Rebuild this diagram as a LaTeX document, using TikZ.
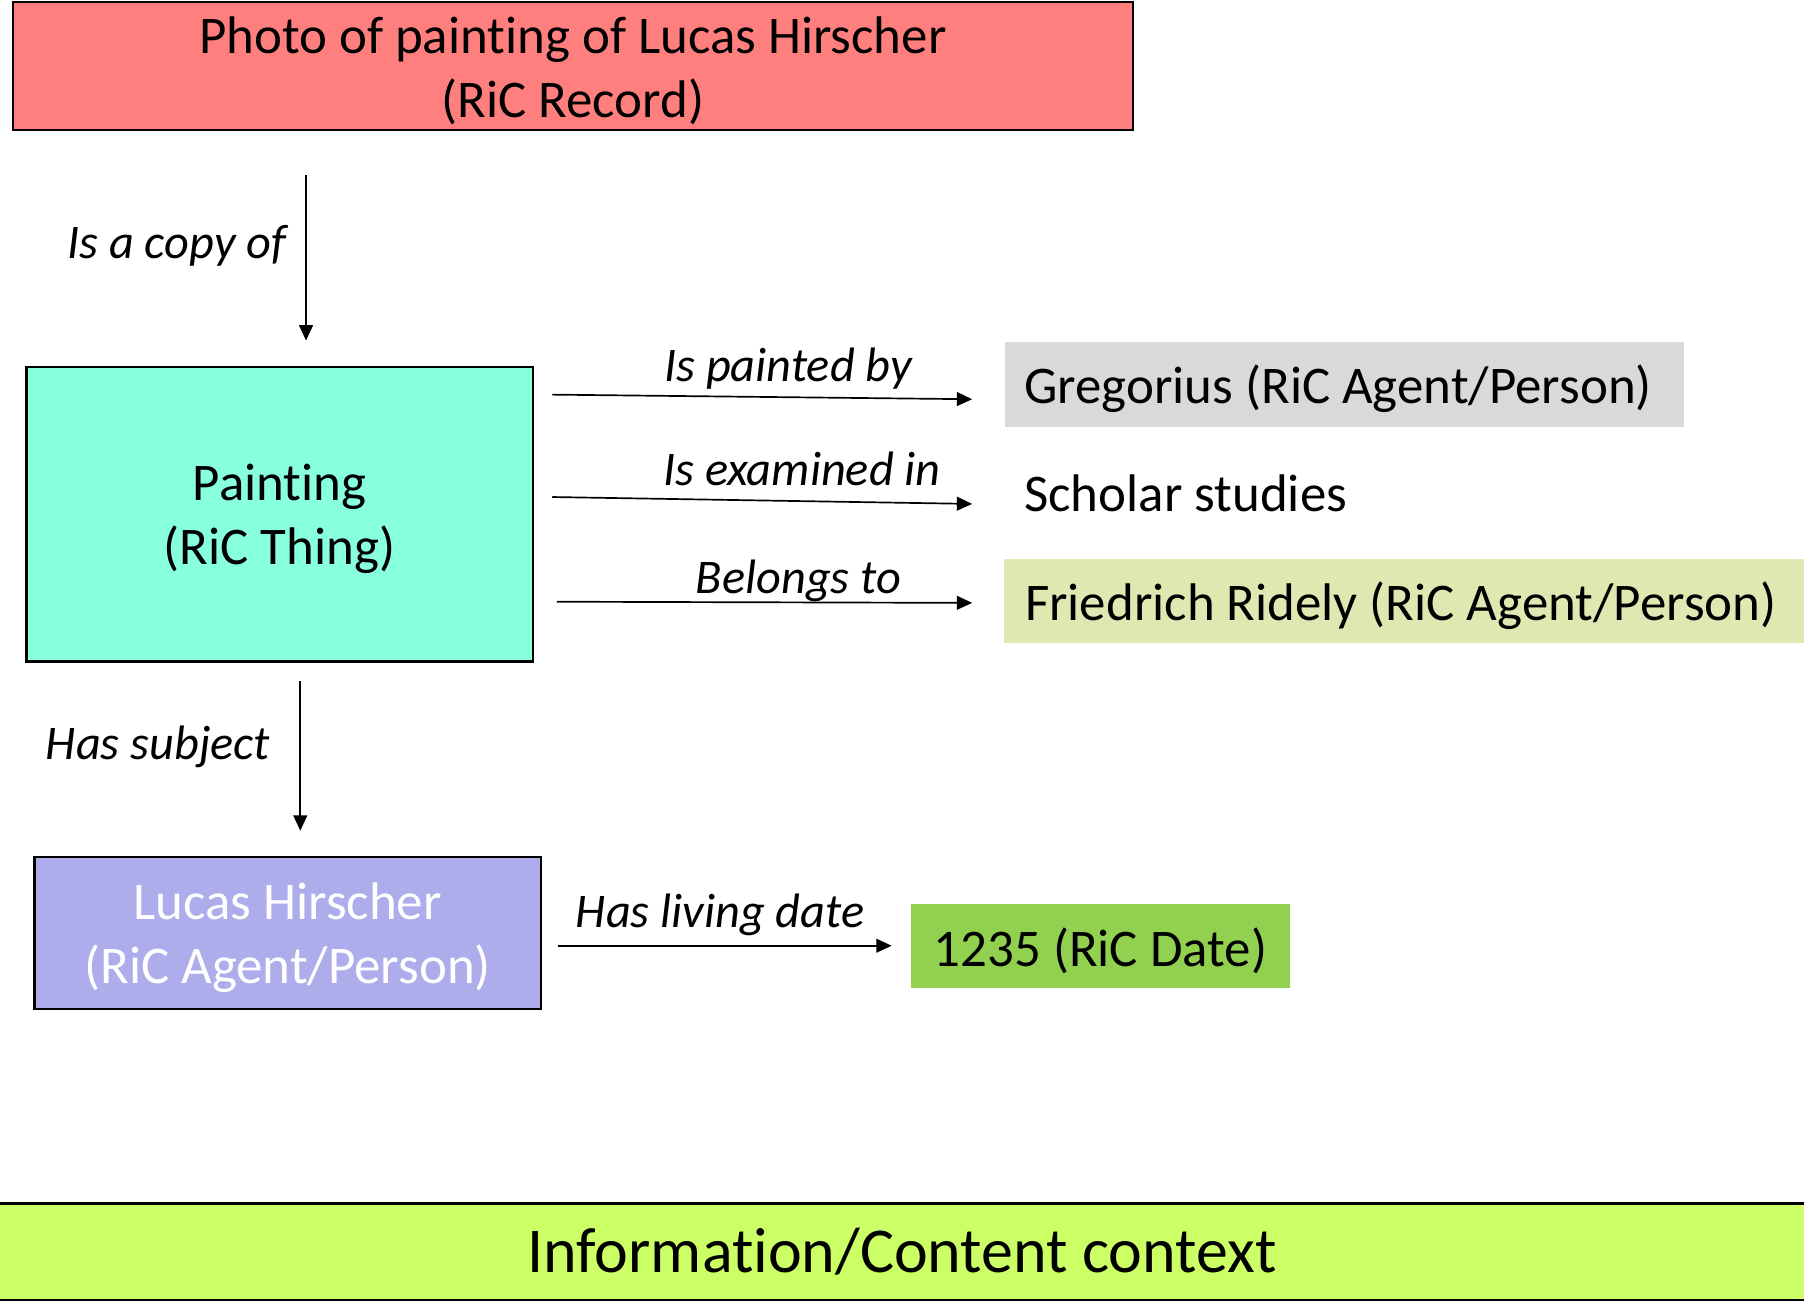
\documentclass[tikz,border=0pt]{standalone}
\usepackage{fontspec}
\setmainfont{Carlito}[Ligatures={NoCommon}]
\usetikzlibrary{arrows.meta}
\newcommand{\boxfont}{\fontsize{34.5}{42}\selectfont}
\newcommand{\relfont}{\fontsize{31.5}{38}\selectfont}
\newcommand{\bannerfont}{\fontsize{41.7}{50}\selectfont}
% set a line a little lower without changing its size
\newcommand{\dropline}[1]{\raisebox{-3pt}[\height][\depth]{#1}}

\begin{document}
\begin{tikzpicture}[x=0.75pt,y=0.75pt,yscale=-1,xscale=1,
    ricbox/.style={draw=black,line width=1.5pt,align=center,inner sep=0pt,font=\boxfont},
    flatbox/.style={inner sep=0pt,font=\boxfont,align=flush left},
    rel/.style={inner sep=0pt,font=\relfont\itshape},
    arr/.style={line width=1.1pt,-{Triangle[length=10pt,width=9pt]}}]
        \useasboundingbox (0,0) rectangle (1568,1131.6);
        % entities
        \node [ricbox,fill={rgb, 255:red, 255; green, 127; blue, 127 },minimum width=730.5pt,minimum height=83.25pt] (record) at (498,57.5) {\dropline{Photo of painting of Lucas Hirscher}\\\dropline{(RiC Record)}};
        \node [ricbox,fill={rgb, 255:red, 136; green, 255; blue, 221 },minimum width=330pt,minimum height=192pt] (thing) at (243,447) {\dropline{Painting}\\\dropline{(RiC Thing)}};
        \node [ricbox,fill={rgb, 255:red, 173; green, 173; blue, 235 },text=white,minimum width=330pt,minimum height=99pt] (lucas) at (250,811) {\dropline{Lucas Hirscher}\\\dropline{(RiC Agent/Person)}};
        \node [flatbox,anchor=west,fill={rgb, 255:red, 217; green, 217; blue, 217 },minimum height=55.5pt,text width=417pt,inner xsep=12.75pt] (gregorius) at (873,334) {\dropline{Gregorius (RiC Agent/Person)}};
        \node [flatbox,anchor=west] (studies) at (890,429) {Scholar studies};
        \node [flatbox,anchor=west,fill={rgb, 255:red, 224; green, 232; blue, 178 },minimum height=54.75pt,text width=503pt,inner xsep=14pt] (ridely) at (872,522.5) {\dropline{Friedrich Ridely (RiC Agent/Person)}};
        \node [flatbox,align=center,fill={rgb, 255:red, 146; green, 208; blue, 80 },minimum width=246.75pt,minimum height=54.75pt] (date) at (956.5,822.5) {\dropline{1235 (RiC Date)}};
        \node [ricbox,font=\bannerfont,fill={rgb, 255:red, 204; green, 255; blue, 102 },minimum width=1192.5pt,minimum height=63pt] (context) at (784,1088) {Information/Content context};
        % arrow ends
        \coordinate (copyA) at (266,152);
        \coordinate (copyB) at (266,296);
        \coordinate (subjA) at (261,592);
        \coordinate (subjB) at (261,722);
        \coordinate (paintA) at (480,343);
        \coordinate (paintB) at (845,347);
        \coordinate (examA) at (480,432);
        \coordinate (examB) at (845,438);
        \coordinate (ownA) at (484,523);
        \coordinate (ownB) at (845,524);
        \coordinate (liveA) at (485,822);
        \coordinate (liveB) at (775,822);
        % relations
        \draw [arr] (copyA) -- (copyB);
        \draw [arr] (subjA) -- (subjB);
        \draw [arr] (paintA) -- (paintB);
        \draw [arr] (examA) -- (examB);
        \draw [arr] (ownA) -- (ownB);
        \draw [arr] (liveA) -- (liveB);
        \node [rel,anchor=base east] (copyLbl) at (249,225) {Is a copy of};
        \node [rel,anchor=base east] (subjLbl) at (235,660) {Has subject};
        \node [rel,anchor=base] (paintLbl) at (685,332) {Is painted by};
        \node [rel,anchor=base] (examLbl) at (697,422) {Is examined in};
        \node [rel,anchor=base] (ownLbl) at (694,516) {Belongs to};
        \node [rel,anchor=base] (liveLbl) at (626,806) {Has living date};
\end{tikzpicture}
\end{document}
